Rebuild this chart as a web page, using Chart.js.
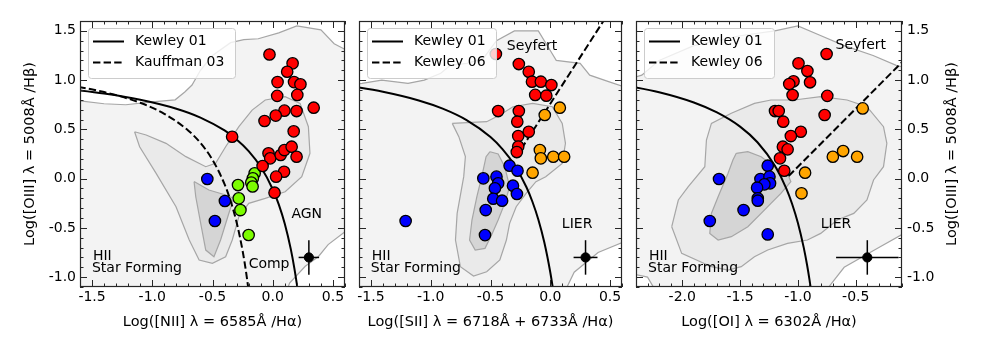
<!DOCTYPE html>
<html><head><meta charset="utf-8">
<script src="https://cdn.jsdelivr.net/npm/chart.js@4/dist/chart.umd.min.js"></script>
<style>
html,body{margin:0;padding:0;background:#fff;}
#wrap{position:relative;width:981px;height:352px;overflow:hidden;}
canvas{position:absolute;top:0;}
</style></head><body>
<div id="wrap">
<canvas id="c1" width="352" height="352" style="left:0px"></canvas>
<canvas id="c2" width="277" height="352" style="left:352px"></canvas>
<canvas id="c3" width="352" height="352" style="left:629px"></canvas>
</div>
<script>
// ---------------- DATA ----------------
const xTicksNII = [-1.5,-1.0,-0.5,0.0,0.5];
const xTicksSII = [-1.5,-1.0,-0.5,0.0,0.5];
const xTicksOI  = [-2.0,-1.5,-1.0,-0.5];
const yTicks    = [-1.0,-0.5,0.0,0.5,1.0,1.5];

const xTitleNII = 'Log([NII] λ = 6585Å /Hα)';
const xTitleSII = 'Log([SII] λ = 6718Å + 6733Å /Hα)';
const xTitleOI  = 'Log([OI] λ = 6302Å /Hα)';
const yTitle    = 'Log([OIII] λ = 5008Å /Hβ)';

const legendNII = ['Kewley 01','Kauffman 03'];
const legendSII = ['Kewley 01','Kewley 06'];
const legendOI  = ['Kewley 01','Kewley 06'];

// Panel 1 : [NII]
const p1RedX = [-0.027,0.165,0.12,0.04,0.177,0.23,0.037,0.204,0.34,0.097,0.198,0.025,-0.068,0.174,-0.337,-0.035,-0.021,0.066,0.097,0.157,0.198,-0.084,0.094,0.028,0.015];
const p1RedY = [1.26,1.17,1.085,0.98,0.98,0.957,0.84,0.85,0.72,0.69,0.686,0.64,0.585,0.48,0.425,0.257,0.206,0.24,0.29,0.324,0.222,0.128,0.07,0.02,-0.143];
const p1GreenX = [-0.288,-0.282,-0.268,-0.2,-0.15,-0.165,-0.178,-0.167];
const p1GreenY = [-0.065,-0.2,-0.319,-0.572,0.054,0.003,-0.04,-0.08];
const p1BlueX = [-0.543,-0.397,-0.48];
const p1BlueY = [-0.004,-0.227,-0.43];
const p1Err = [0.30,-0.80,0.085,0.175];

// Panel 2 : [SII]
const p2RedX = [-0.455,-0.263,-0.18,-0.153,-0.079,0.009,-0.126,-0.033,-0.436,-0.263,-0.276,-0.18,-0.268,-0.268,-0.28];
const p2RedY = [1.265,1.163,1.085,0.984,0.984,0.95,0.85,0.842,0.686,0.686,0.578,0.476,0.432,0.325,0.27];
const p2OrangeX = [0.08,-0.046,-0.087,-0.079,0.025,0.116,-0.148];
const p2OrangeY = [0.72,0.646,0.29,0.206,0.222,0.222,0.06];
const p2BlueX = [-0.34,-0.274,-0.56,-0.45,-0.436,-0.463,-0.312,-0.279,-0.477,-0.403,-0.54,-0.546,-1.21];
const p2BlueY = [0.131,0.08,0.003,0.02,-0.048,-0.098,-0.072,-0.156,-0.204,-0.224,-0.319,-0.573,-0.43];
const p2Err = [0.295,-0.80,0.10,0.175];

// Panel 3 : [OI]
const p3RedX = [-0.752,-0.995,-0.918,-0.895,-1.038,-1.075,-1.046,-0.746,-1.198,-1.166,-0.769,-1.127,-0.975,-1.061,-1.13,-1.089,-1.155,-1.118];
const p3RedY = [1.265,1.17,1.092,0.978,0.988,0.96,0.849,0.84,0.686,0.686,0.646,0.578,0.476,0.432,0.324,0.297,0.206,0.08];
const p3OrangeX = [-0.44,-0.698,-0.609,-0.488,-0.938,-0.969];
const p3OrangeY = [0.713,0.222,0.28,0.222,0.06,-0.149];
const p3BlueX = [-1.261,-1.682,-1.324,-1.246,-1.241,-1.29,-1.353,-1.347,-1.347,-1.47,-1.762,-1.261];
const p3BlueY = [0.131,-0.004,-0.004,0.02,-0.048,-0.058,-0.092,-0.2,-0.224,-0.319,-0.43,-0.566];
const p3Err = [-0.40,-0.80,0.27,0.175];

// Demarcation curves
const k01NIIx = [-1.7,-1.4,-1.1,-0.8,-0.6,-0.4,-0.3,-0.2,-0.1,0.0,0.05,0.1,0.15,0.18,0.2,0.21];
const k01NIIy = [0.909,0.864,0.801,0.710,0.620,0.489,0.398,0.280,0.120,-0.108,-0.262,-0.459,-0.716,-0.913,-1.069,-1.156];
const k03NIIx = [-1.7,-1.4,-1.1,-0.9,-0.7,-0.6,-0.5,-0.4,-0.35,-0.3,-0.25,-0.22,-0.2];
const k03NIIy = [0.951,0.879,0.770,0.658,0.487,0.362,0.191,-0.056,-0.225,-0.443,-0.733,-0.959,-1.14];
const k01SIIx = [-1.7,-1.4,-1.1,-0.9,-0.7,-0.5,-0.4,-0.3,-0.2,-0.15,-0.1,-0.05,0.0,0.02,0.03];
const k01SIIy = [0.944,0.881,0.793,0.710,0.594,0.422,0.300,0.139,-0.085,-0.232,-0.414,-0.646,-0.95,-1.1,-1.183];
const k06SIIx = [-0.29,0.47];
const k06SIIy = [0.212,1.648];
const k01OIx = [-2.5,-2.2,-1.9,-1.7,-1.5,-1.35,-1.2,-1.1,-1.05,-1.0,-0.95,-0.92,-0.9,-0.88];
const k01OIy = [0.948,0.877,0.773,0.672,0.528,0.369,0.133,-0.101,-0.257,-0.450,-0.698,-0.882,-1.025,-1.187];
const k06OIx = [-1.08,0.0];
const k06OIy = [0.026,1.30];

// Galaxy density contours (outer, middle, inner)
const p1Outer = [[-1.8,0.80],[-1.6,0.79],[-1.4,0.76],[-1.22,0.75],[-1.0,0.78],[-0.81,0.80],[-0.73,0.88],[-0.67,0.95],[-0.6,1.1],[-0.5,1.25],[-0.35,1.38],[-0.24,1.41],[-0.12,1.42],[0.05,1.48],[0.2,1.55],[0.4,1.51],[0.51,1.37],[0.62,1.3],[0.7,1.2],[0.7,-0.45],[0.6,-0.54],[0.46,-0.67],[0.38,-0.79],[0.27,-0.89],[0.14,-1.06],[0.1,-1.2],[-1.8,-1.2]];
const p1Mid = [[-1.147,0.476],[-1.051,0.443],[-0.886,0.358],[-0.721,0.223],[-0.556,0.121],[-0.474,0.155],[-0.391,0.324],[-0.281,0.527],[-0.171,0.696],[-0.062,0.798],[0.103,0.832],[0.227,0.764],[0.296,0.527],[0.309,0.257],[0.241,0.02],[0.103,-0.133],[-0.062,-0.2],[-0.199,-0.251],[-0.281,-0.386],[-0.336,-0.623],[-0.391,-0.793],[-0.501,-0.86],[-0.611,-0.826],[-0.693,-0.623],[-0.803,-0.285],[-0.968,0.053],[-1.105,0.324]];
const p1Inner = [[-0.653,-0.03],[-0.53,-0.116],[-0.39,-0.166],[-0.323,-0.2],[-0.364,-0.352],[-0.433,-0.623],[-0.488,-0.793],[-0.556,-0.725],[-0.598,-0.454],[-0.639,-0.184]];

const p2Outer = [[-1.8,0.95],[-1.575,0.967],[-1.41,1.0],[-1.19,0.967],[-1.054,1.0],[-0.916,1.069],[-0.834,1.153],[-0.697,1.17],[-0.56,1.22],[-0.45,1.4],[-0.3,1.5],[-0.1,1.5],[0.0,1.3],[0.05,1.2],[0.25,1.17],[0.33,1.05],[0.5,0.98],[0.7,0.9],[0.7,-0.6],[0.4,-0.75],[0.2,-0.95],[0.1,-1.2],[-1.8,-1.2]];
const p2Mid = [[-0.82,0.561],[-0.532,0.578],[-0.422,0.646],[-0.312,0.730],[-0.148,0.764],[0.017,0.730],[0.1,0.561],[0.127,0.358],[0.1,0.155],[-0.038,0.02],[-0.12,-0.031],[-0.202,-0.15],[-0.285,-0.285],[-0.34,-0.454],[-0.367,-0.623],[-0.422,-0.826],[-0.532,-0.945],[-0.642,-0.989],[-0.752,-0.894],[-0.793,-0.623],[-0.779,-0.353],[-0.724,0.02],[-0.71,0.223],[-0.765,0.426]];
const p2Inner = [[-0.504,0.273],[-0.436,0.250],[-0.381,0.121],[-0.34,-0.082],[-0.381,-0.251],[-0.436,-0.42],[-0.491,-0.573],[-0.546,-0.708],[-0.628,-0.725],[-0.675,-0.623],[-0.655,-0.42],[-0.614,-0.183],[-0.573,0.02],[-0.537,0.223]];

const p3Outer = [[-2.5,1.0],[-2.35,1.05],[-2.2,1.2],[-1.9,1.35],[-1.5,1.45],[-1.2,1.5],[-1.0,1.55],[-0.8,1.45],[-0.6,1.35],[-0.35,1.25],[-0.15,1.15],[0.0,1.1],[0.0,-0.5],[-0.3,-0.7],[-0.6,-0.9],[-0.8,-1.2],[-2.2,-1.2],[-2.3,-1.0],[-2.5,-0.95]];
const p3Mid = [[-2.091,-0.488],[-2.034,-0.217],[-1.948,-0.082],[-1.805,0.121],[-1.791,0.392],[-1.748,0.561],[-1.576,0.663],[-1.376,0.764],[-1.233,0.798],[-1.032,0.798],[-0.803,0.832],[-0.575,0.798],[-0.403,0.730],[-0.26,0.527],[-0.231,0.358],[-0.26,0.121],[-0.346,-0.014],[-0.403,-0.217],[-0.517,-0.353],[-0.66,-0.42],[-0.803,-0.556],[-0.918,-0.623],[-1.09,-0.657],[-1.261,-0.725],[-1.376,-0.793],[-1.49,-0.894],[-1.605,-0.928],[-1.748,-0.894],[-2.005,-0.759]];
const p3Inner = [[-1.533,0.257],[-1.433,0.273],[-1.318,0.223],[-1.204,0.121],[-1.09,0.053],[-1.061,-0.031],[-1.147,-0.15],[-1.233,-0.251],[-1.318,-0.353],[-1.433,-0.488],[-1.576,-0.589],[-1.69,-0.623],[-1.762,-0.556],[-1.748,-0.353],[-1.69,-0.183],[-1.605,0.053],[-1.562,0.189]];

// ---------------- STYLE / HELPERS ----------------
const FONT = 'DejaVu Sans';
const FS = 14;
const FT = 14.5;
const pts = (xs, ys) => xs.map((x, i) => ({x: x, y: ys[i]}));
const poly = (arr) => arr.concat([arr[0]]).map(p => ({x: p[0], y: p[1]}));
const fmt = v => (Math.abs(v) < 1e-9 ? 0 : v).toFixed(1);

function contourSets(outer, mid, inner) {
  const base = {type:'line', showLine:true, pointRadius:0, borderColor:'#a6a6a6', borderWidth:1.2, tension:0, fill:'shape'};
  return [
    Object.assign({}, base, {label:'c1', data: poly(outer), backgroundColor:'#f3f3f3', order:30}),
    Object.assign({}, base, {label:'c2', data: poly(mid), backgroundColor:'#eaeaea', order:29}),
    Object.assign({}, base, {label:'c3', data: poly(inner), backgroundColor:'#d5d5d5', order:28})
  ];
}
function curveSet(xs, ys, dashed) {
  return {type:'line', showLine:true, data: pts(xs, ys), borderColor:'#000', borderWidth:2,
          borderDash: dashed ? [7.4,3.2] : [], pointRadius:0, fill:false, cubicInterpolationMode:'monotone', order:10};
}
function scatterSet(xs, ys, color) {
  return {type:'scatter', data: pts(xs, ys), backgroundColor: color, borderColor:'#000', pointBorderWidth:1.3,
          pointRadius:5.7, order:2};
}
function errSets(e) {
  const [x, y, ex, ey] = e;
  return [
    {type:'line', showLine:true, data:[{x:x-ex,y:y},{x:x+ex,y:y}], borderColor:'#000', borderWidth:1.5, pointRadius:0, fill:false, order:1},
    {type:'line', showLine:true, data:[{x:x,y:y-ey},{x:x,y:y+ey}], borderColor:'#000', borderWidth:1.5, pointRadius:0, fill:false, order:1},
    {type:'scatter', data:[{x:x,y:y}], backgroundColor:'#000', borderColor:'#000', pointRadius:4.6, order:0}
  ];
}

// frame + inward ticks (major and minor) on all four sides
const frameTicks = {
  id: 'frameTicks',
  afterDraw(chart) {
    const {ctx, chartArea: a, scales: {x, y}} = chart;
    ctx.save();
    ctx.strokeStyle = '#262626';
    ctx.lineWidth = 1;
    const xMaj = chart.options.plugins.frameTicks.xMajor;
    const xMinor = [], yMinor = [];
    for (let v = Math.ceil(x.min * 10); v <= Math.floor(x.max * 10); v++) xMinor.push(v / 10);
    for (let v = Math.ceil(y.min * 10); v <= Math.floor(y.max * 10); v++) yMinor.push(v / 10);
    const tx = (v, len) => { const p = Math.round(x.getPixelForValue(v)) + 0.5;
      ctx.moveTo(p, a.bottom); ctx.lineTo(p, a.bottom - len); ctx.moveTo(p, a.top); ctx.lineTo(p, a.top + len); };
    const ty = (v, len) => { const p = Math.round(y.getPixelForValue(v)) + 0.5;
      ctx.moveTo(a.left, p); ctx.lineTo(a.left + len, p); ctx.moveTo(a.right, p); ctx.lineTo(a.right - len, p); };
    ctx.beginPath();
    xMinor.forEach(v => tx(v, 3.5));
    yMinor.forEach(v => ty(v, 3.5));
    xMaj.forEach(v => tx(v, 7));
    yTicks.forEach(v => ty(v, 7));
    ctx.stroke();
    ctx.lineWidth = 1.2;
    ctx.strokeRect(a.left + 0.5, a.top + 0.5, a.right - a.left - 1, a.bottom - a.top - 1);
    ctx.restore();
  }
};

// legend box + region labels + optional right axis title
const annot = {
  id: 'annot',
  afterDatasetsDraw(chart) {
    const o = chart.options.plugins.annot;
    const {ctx, chartArea: a, scales: {x, y}} = chart;
    ctx.save();
    ctx.font = FS + 'px "' + FONT + '"';
    ctx.fillStyle = '#000';
    ctx.textBaseline = 'middle';
    ctx.textAlign = 'left';
    o.texts.forEach(t => ctx.fillText(t[0], x.getPixelForValue(t[1]), y.getPixelForValue(t[2])));
    // legend
    const lx = a.left + 8, ly = a.top + 7, lw = o.legendW, lh = 50;
    ctx.beginPath();
    if (ctx.roundRect) ctx.roundRect(lx + 0.5, ly + 0.5, lw, lh, 3); else ctx.rect(lx + 0.5, ly + 0.5, lw, lh);
    ctx.fillStyle = 'rgba(255,255,255,0.8)';
    ctx.fill();
    ctx.strokeStyle = '#cccccc';
    ctx.lineWidth = 1;
    ctx.stroke();
    ctx.strokeStyle = '#000';
    ctx.lineWidth = 2;
    [0, 1].forEach(i => {
      const yy = ly + 13.5 + i * 21;
      ctx.setLineDash(i ? [7.4, 3.2] : []);
      ctx.beginPath(); ctx.moveTo(lx + 5, yy); ctx.lineTo(lx + 36, yy); ctx.stroke();
      ctx.fillStyle = '#000';
      ctx.fillText(o.legend[i], lx + 47, yy);
    });
    ctx.setLineDash([]);
    if (o.rightTitle) {
      ctx.font = FT + 'px "' + FONT + '"';
      ctx.translate(chart.width - 29, (a.top + a.bottom) / 2);
      ctx.rotate(-Math.PI / 2);
      ctx.textAlign = 'center';
      ctx.fillText(o.rightTitle, 0, 0);
    }
    ctx.restore();
  }
};

function makeChart(id, c) {
  const tickFont = {family: FONT, size: FS};
  return new Chart(document.getElementById(id), {
    type: 'scatter',
    data: {datasets: c.datasets},
    options: {
      responsive: false, animation: false, events: [],
      layout: {padding: c.padding},
      plugins: {legend: {display: false}, tooltip: {enabled: false},
                frameTicks: {xMajor: c.xTicks}, annot: c.annot},
      scales: {
        x: {type: 'linear', min: c.xmin, max: c.xmax,
            afterBuildTicks: s => { s.ticks = c.xTicks.map(v => ({value: v})); },
            afterFit: s => { s.height = 65; },
            grid: {display: false, drawTicks: false}, border: {display: false},
            ticks: {font: tickFont, color: '#000', padding: 2, maxRotation: 0, autoSkip: false, callback: v => fmt(v)},
            title: {display: true, text: c.xTitle, font: {family: FONT, size: FT}, color: '#000', padding: {top: 0, bottom: 21}}},
        y: {type: 'linear', min: -1.1, max: 1.6, position: c.yPos, display: c.yShow,
            afterBuildTicks: s => { s.ticks = yTicks.map(v => ({value: v})); },
            afterFit: s => { if (c.yWidth) s.width = c.yWidth; },
            grid: {display: false, drawTicks: false}, border: {display: false},
            ticks: {font: tickFont, color: '#000', padding: c.yPad, autoSkip: false, callback: v => fmt(v)},
            title: {display: c.yTitleShow, text: yTitle, font: {family: FONT, size: FT}, color: '#000', padding: {top: 22, bottom: 0}}}
      }
    },
    plugins: [frameTicks, annot]
  });
}

makeChart('c1', {
  xmin: -1.6, xmax: 0.6, xTicks: xTicksNII, xTitle: xTitleNII,
  padding: {left: 0, right: 5, top: 21, bottom: 0}, yPos: 'left', yShow: true, yWidth: 80, yPad: 4, yTitleShow: true,
  annot: {legend: legendNII, legendW: 147,
          texts: [['HII', -1.493, -0.79], ['Star Forming', -1.501, -0.91], ['AGN', 0.155, -0.36], ['Comp', -0.2, -0.867]]},
  datasets: [].concat(
    errSets(p1Err),
    [scatterSet(p1RedX, p1RedY, '#ff0000'), scatterSet(p1GreenX, p1GreenY, '#7cfc00'), scatterSet(p1BlueX, p1BlueY, '#0000ff')],
    [curveSet(k01NIIx, k01NIIy, false), curveSet(k03NIIx, k03NIIy, true)],
    contourSets(p1Outer, p1Mid, p1Inner))
});

makeChart('c2', {
  xmin: -1.6, xmax: 0.6, xTicks: xTicksSII, xTitle: xTitleSII,
  padding: {left: 5, right: 5, top: 21, bottom: 0}, yPos: 'left', yShow: false, yWidth: 0, yPad: 4, yTitleShow: false,
  annot: {legend: legendSII, legendW: 129,
          texts: [['Seyfert', -0.364, 1.346], ['LIER', 0.097, -0.461], ['HII', -1.493, -0.79], ['Star Forming', -1.501, -0.91]]},
  datasets: [].concat(
    errSets(p2Err),
    [scatterSet(p2RedX, p2RedY, '#ff0000'), scatterSet(p2OrangeX, p2OrangeY, '#ffa500'), scatterSet(p2BlueX, p2BlueY, '#0000ff')],
    [curveSet(k01SIIx, k01SIIy, false), curveSet(k06SIIx, k06SIIy, true)],
    contourSets(p2Outer, p2Mid, p2Inner))
});

makeChart('c3', {
  xmin: -2.4, xmax: -0.1, xTicks: xTicksOI, xTitle: xTitleOI,
  padding: {left: 5, right: 0, top: 21, bottom: 0}, yPos: 'right', yShow: true, yWidth: 79, yPad: 5, yTitleShow: false,
  annot: {legend: legendOI, legendW: 130, rightTitle: yTitle,
          texts: [['Seyfert', -0.675, 1.356], ['LIER', -0.803, -0.461], ['HII', -2.288, -0.79], ['Star Forming', -2.296, -0.91]]},
  datasets: [].concat(
    errSets(p3Err),
    [scatterSet(p3RedX, p3RedY, '#ff0000'), scatterSet(p3OrangeX, p3OrangeY, '#ffa500'), scatterSet(p3BlueX, p3BlueY, '#0000ff')],
    [curveSet(k01OIx, k01OIy, false), curveSet(k06OIx, k06OIy, true)],
    contourSets(p3Outer, p3Mid, p3Inner))
});
</script>
</body></html>
